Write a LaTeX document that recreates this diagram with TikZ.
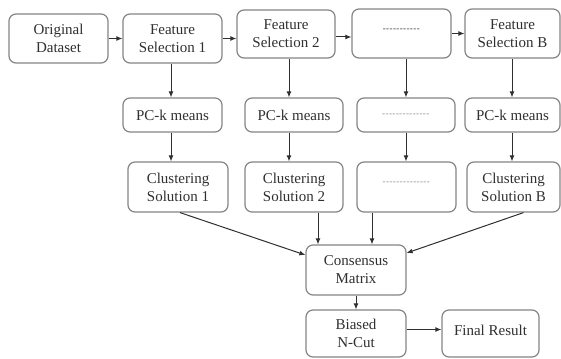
\documentclass[tikz,border=0pt]{standalone}
\usepackage{fontspec}
\setmainfont{Liberation Serif}
\usetikzlibrary{arrows.meta}
\definecolor{boxgray}{HTML}{858585}
\definecolor{arrgray}{HTML}{303030}
\definecolor{txt}{HTML}{303030}
\definecolor{dashc}{HTML}{8A8A8A}
\newcommand\hyph[1]{\foreach \i in {1,...,#1}{-\kern0.4pt}}
\begin{document}
\begin{tikzpicture}[x=1pt,y=-1pt,
  box/.style={draw=boxgray, line width=1.2pt, rounded corners=7pt, inner sep=0pt,
    align=center, text=txt, font=\fontsize{15}{18}\selectfont},
  arr/.style={draw=arrgray, line width=1pt, -{Latex[length=6pt,width=5pt]}}
]
\useasboundingbox[fill=white] (0,0) rectangle (561,358);
% top row
\node[box, minimum width=99pt, minimum height=49pt] (OD) at (58.5,38.5) {Original\\Dataset};
\node[box, minimum width=99pt, minimum height=49pt] (FS1) at (172.5,38.5) {Feature\\Selection 1};
\node[box, minimum width=98pt, minimum height=48pt] (FS2) at (286,34) {Feature\\Selection 2};
\node[box, minimum width=99pt, minimum height=49pt] (D1) at (401.5,33.5)
  {\raisebox{6pt}{\fontsize{9}{9}\selectfont\color{arrgray}\hyph{11}}};
\node[box, minimum width=95pt, minimum height=49pt] (FSB) at (512.5,33.5) {Feature\\Selection B};
% PC row
\node[box, minimum width=99pt, minimum height=34pt] (PC1) at (172.5,115) {PC-k means};
\node[box, minimum width=98pt, minimum height=34pt] (PC2) at (294,115) {PC-k means};
\node[box, minimum width=98pt, minimum height=34pt] (PD) at (406,115)
  {\raisebox{0pt}{\fontsize{9}{9}\selectfont\color{dashc}\hyph{14}}};
\node[box, minimum width=95pt, minimum height=34pt] (PCB) at (512.5,115) {PC-k means};
% clustering row
\node[box, minimum width=100pt, minimum height=50pt] (C1) at (178,187) {Clustering\\Solution 1};
\node[box, minimum width=98pt, minimum height=50pt] (C2) at (294,187) {Clustering\\Solution 2};
\node[box, minimum width=99pt, minimum height=50pt] (CD) at (406.5,187)
  {\raisebox{7pt}{\fontsize{9}{9}\selectfont\color{dashc}\hyph{14}}};
\node[box, minimum width=93pt, minimum height=50pt] (CB) at (513.5,187) {Clustering\\Solution B};
% bottom
\node[box, minimum width=100pt, minimum height=50pt] (CM) at (356,270) {Consensus\\Matrix};
\node[box, minimum width=100pt, minimum height=47pt] (BN) at (356,333.5) {Biased\\N-Cut};
\node[box, minimum width=97pt, minimum height=47pt] (FR) at (490.5,333.5)
  {\raisebox{7pt}{Final Result}};
% column coordinates
\coordinate (k1) at (171,0);
\coordinate (k2) at (289,0);
\coordinate (k3) at (406,0);
\coordinate (k4) at (512,0);
\coordinate (m2) at (318,0);
\coordinate (m3) at (372,0);
% horizontal arrows
\draw[arr] (OD) -- (FS1);
\draw[arr] (FS1.east) -- (FS1.east -| FS2.west);
\draw[arr] ([yshift=-3pt]FS2.east) -- ([yshift=-3pt]FS2.east -| D1.west);
\draw[arr] (D1) -- (FSB);
% vertical arrows
\draw[arr] (FS1.south -| k1) -- (PC1.north -| k1);
\draw[arr] (FS2.south -| k2) -- (PC2.north -| k2);
\draw[arr] (D1.south -| k3) -- (PD.north -| k3);
\draw[arr] (FSB.south -| k4) -- (PCB.north -| k4);
\draw[arr] (PC1.south -| k1) -- (C1.north -| k1);
\draw[arr] (PC2.south -| k2) -- (C2.north -| k2);
\draw[arr] (PD.south -| k3) -- (CD.north -| k3);
\draw[arr] (PCB.south -| k4) -- (CB.north -| k4);
% to consensus
\draw[arr] ([xshift=2pt]C1.south) -- ([yshift=15pt]CM.west);
\draw[arr] (C2.south -| m2) -- (CM.north -| m2);
\draw[arr] (CD.south -| m3) -- (CM.north -| m3);
\draw[arr] ([xshift=10pt]CB.south) -- ([yshift=17pt]CM.east);
\draw[arr] (CM) -- (BN);
\draw[arr] ([yshift=4pt]BN.east) -- ([yshift=4pt]BN.east -| FR.west);
\end{tikzpicture}
\end{document}
